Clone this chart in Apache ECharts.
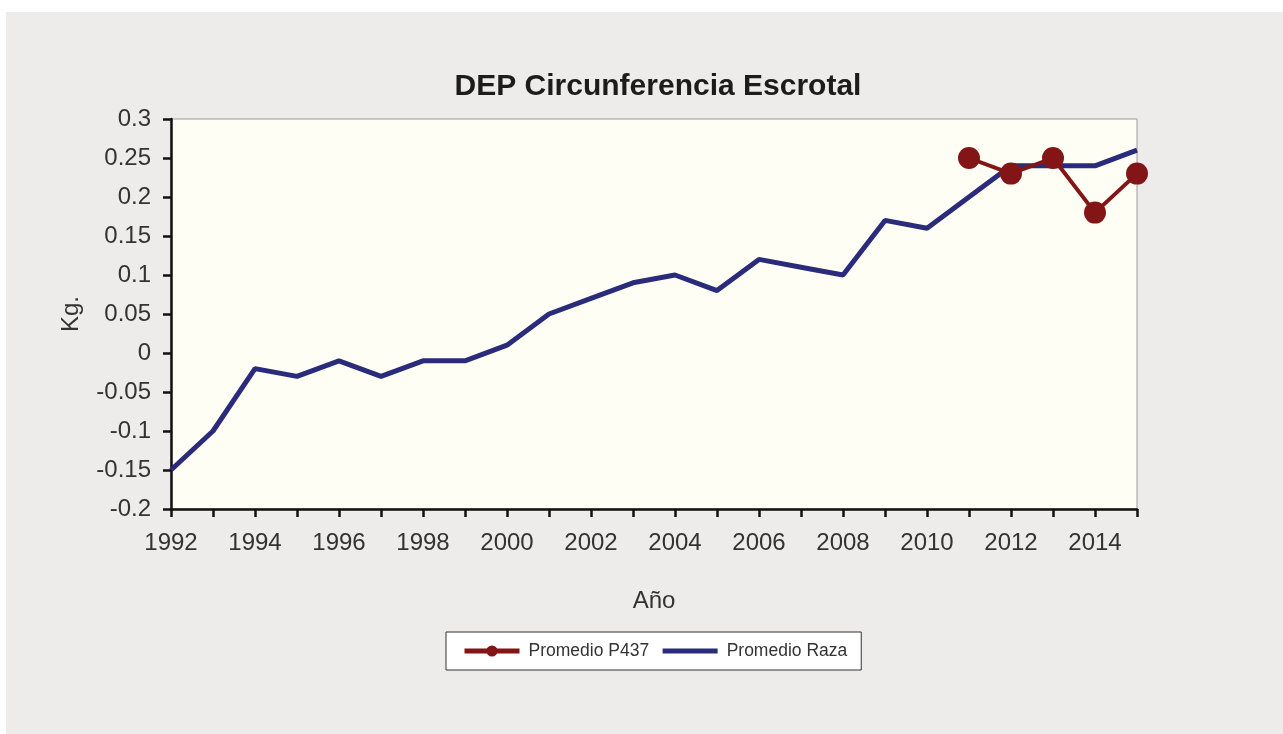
<!DOCTYPE html>
<html>
<head>
<meta charset="utf-8">
<title>DEP Circunferencia Escrotal</title>
<script src="https://cdn.jsdelivr.net/npm/echarts@6/dist/echarts.min.js"></script>
<style>
  html, body { margin: 0; padding: 0; background: #ffffff; }
  #chart {
    position: absolute;
    left: 6px;
    top: 12px;
    width: 1277px;
    height: 722px;
  }
</style>
</head>
<body>
<div id="chart"></div>
<script>
// años del eje x
const years = ['1992','1993','1994','1995','1996','1997','1998','1999','2000','2001','2002','2003',
  '2004','2005','2006','2007','2008','2009','2010','2011','2012','2013','2014','2015'];

// DEP promedio de la raza
const promedioRaza = [-0.15, -0.10, -0.02, -0.03, -0.01, -0.03, -0.01, -0.01, 0.01, 0.05, 0.07, 0.09,
  0.10, 0.08, 0.12, 0.11, 0.10, 0.17, 0.16, 0.20, 0.24, 0.24, 0.24, 0.26];

// DEP promedio del toro P437 (solo desde 2011)
const promedioP437 = [null, null, null, null, null, null, null, null, null, null, null, null,
  null, null, null, null, null, null, null, 0.25, 0.23, 0.25, 0.18, 0.23];

const yMin = -0.2, yMax = 0.3, yStep = 0.05;

const chart = echarts.init(document.getElementById('chart'));

const font = '"Liberation Sans", Arial, sans-serif';

const option = {
  backgroundColor: '#EDECEB',
  animation: false,
  textStyle: { fontFamily: font },
  title: {
    text: 'DEP Circunferencia Escrotal',
    left: 647,
    top: 55,
    textAlign: 'center',
    textStyle: { fontSize: 30, fontWeight: 'bold', color: '#1c1c1c', fontFamily: font }
  },
  grid: {
    left: 165,
    top: 107,
    right: 146,
    bottom: 225,
    show: true,
    backgroundColor: '#FEFEF5',
    borderColor: '#9a9a9a',
    borderWidth: 1
  },
  legend: {
    left: 440,
    top: 620,
    data: [
      'Promedio P437',
      { name: 'Promedio Raza', itemStyle: { opacity: 0 } }
    ],
    backgroundColor: '#ffffff',
    borderColor: '#333',
    borderWidth: 1,
    borderRadius: 0,
    padding: [10, 14, 10, 16],
    itemWidth: 55,
    itemHeight: 14,
    itemGap: 11,
    lineStyle: { width: 5 },
    textStyle: { fontSize: 17.5, color: '#333', fontFamily: font, padding: [0, 0, 0, 4] }
  },
  xAxis: {
    type: 'category',
    data: years,
    boundaryGap: false,
    name: 'Año',
    nameLocation: 'middle',
    nameGap: 80,
    nameTextStyle: { fontSize: 24, color: '#333' },
    axisLine: { onZero: false, lineStyle: { color: '#111', width: 2.5 } },
    axisTick: { interval: 0, length: 8, lineStyle: { color: '#111', width: 2.5 } },
    axisLabel: { interval: 1, fontSize: 24, color: '#333', margin: 22 },
    splitLine: { show: false }
  },
  yAxis: {
    type: 'value',
    min: yMin,
    max: yMax,
    interval: yStep,
    name: 'Kg.',
    nameLocation: 'middle',
    nameGap: 88,
    nameTextStyle: { fontSize: 24, color: '#333' },
    axisLine: { show: true, lineStyle: { color: '#111', width: 2.5 } },
    axisTick: { show: true, length: 8, lineStyle: { color: '#111', width: 2.5 } },
    axisLabel: {
      fontSize: 24,
      color: '#333',
      margin: 20,
      formatter: v => String(+v.toFixed(2))
    },
    splitLine: { show: false }
  },
  series: [
    {
      name: 'Promedio P437',
      type: 'line',
      data: promedioP437,
      color: '#841517',
      symbol: 'circle',
      symbolSize: 22,
      lineStyle: { width: 4 },
      z: 3
    },
    {
      name: 'Promedio Raza',
      type: 'line',
      data: promedioRaza,
      color: '#2A2B7A',
      symbol: 'none',
      lineStyle: { width: 5 },
      z: 2
    }
  ]
};

chart.setOption(option);
</script>
</body>
</html>
